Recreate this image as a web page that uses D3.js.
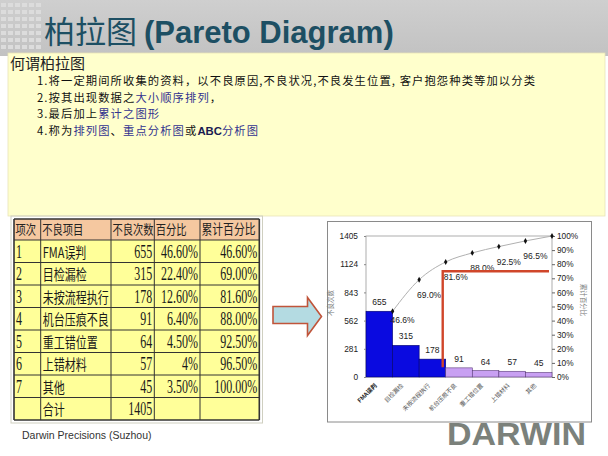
<!DOCTYPE html>
<html><head><meta charset="utf-8">
<script src="https://cdn.jsdelivr.net/npm/d3@7"></script>
<style>html,body{margin:0;padding:0;background:#fff;}svg{display:block;}</style>
</head><body>
<svg id="s" width="608" height="456"></svg>
<script>
// ---------- data ----------
const categories = ["FMA误判","目检漏检","未按流程执行","机台压痕不良","重工错位置","上错材料","其他"];
const counts = [655,315,178,91,64,57,45];
const pctText = ["46.60%","22.40%","12.60%","6.40%","4.50%","4%","3.50%"];
const cumPct = [46.6,69.0,81.6,88.0,92.5,96.5,100.0];
const cumPctText = ["46.60%","69.00%","81.60%","88.00%","92.50%","96.50%","100.00%"];
const cumLabels = ["46.6%","69.0%","81.6%","88.0%","92.5%","96.5%"];
const totalCount = 1405;
const tableHeaders = ["项次","不良项目","不良次数","百分比","累计百分比"];
const leftTicks = [0,281,562,843,1124,1405];
const rightTicks = [0,10,20,30,40,50,60,70,80,90,100];
const vitalFew = 3;              // number of "A" class bars (blue)
const markerPctRange = [7, 75];  // red bracket line, in percent
const introTitle = "何谓柏拉图";
const introLines = [
  [["1.将一定期间所收集的资料，以不良原因,不良状况,不良发生位置, 客户抱怨种类等加以分类",0]],
  [["2.按其出现数据之",0],["大小顺序排列",1],["，",0]],
  [["3.最后加上",0],["累计之图形",1]],
  [["4.称为",0],["排列图",1],["、",0],["重点分析图",1],["或",0],["ABC",2],["分析图",1]]
];

const svg = d3.select("#s");
const CJK = "'Noto Sans CJK SC', 'Liberation Sans', sans-serif";
const SANS = "'Liberation Sans', Arial, 'Noto Sans CJK SC', sans-serif";

// ---------- slide background ----------
const hdrGrad = svg.append("defs").append("linearGradient").attr("id","hg").attr("x1",0).attr("y1",0).attr("x2",0).attr("y2",1);
hdrGrad.append("stop").attr("offset","0%").attr("stop-color","#cfcfcf");
hdrGrad.append("stop").attr("offset","100%").attr("stop-color","#c2c2c2");
svg.append("rect").attr("x",0).attr("y",0).attr("width",608).attr("height",56).attr("fill","url(#hg)");
const gridRows = d3.range(7), gridCols = d3.range(6);
gridRows.forEach(r => gridCols.forEach(c => {
  svg.append("rect").attr("x",1+c*7).attr("y",3+r*7).attr("width",5).attr("height",4).attr("fill","#dcdcdc");
}));
const title = svg.append("text").attr("x",44).attr("y",43).attr("fill","#1d4f63").attr("font-size",31);
title.append("tspan").attr("font-family",CJK).text("柏拉图 ");
title.append("tspan").attr("font-family",SANS).attr("font-weight","bold").text("(Pareto Diagram)");

// yellow intro box
svg.append("rect").attr("x",8).attr("y",53).attr("width",597).attr("height",163).attr("fill","#ffffcc").attr("stroke","#e8e4b8").attr("stroke-width",0.8);
svg.append("text").attr("x",10).attr("y",69).attr("font-family",CJK).attr("font-size",15).attr("fill","#222").text(introTitle);
introLines.forEach((segs,i) => {
  const t = svg.append("text").attr("x",37).attr("y",85+i*16.7).attr("font-family",CJK).attr("font-size",11.3)
    .attr("letter-spacing",1.1).attr("fill","#111");
  segs.forEach(([s,k]) => {
    const sp = t.append("tspan").text(s);
    if (k===1) sp.attr("fill","#33338f");
    if (k===2) sp.attr("font-family",SANS).attr("font-weight","bold").attr("letter-spacing",0).attr("fill","#1a1a50");
  });
});

// ---------- table ----------
const colX = [14, 40.7, 111, 154.3, 200, 259.3];
const rowY = d3.range(10).map(i => i===0 ? 219 : 240 + (i-1)*22.5);
const tbl = svg.append("g");
tbl.append("rect").attr("x",11).attr("y",216).attr("width",251.5).attr("height",207).attr("fill","none").attr("stroke","#cfcfc0").attr("stroke-width",1);
tbl.append("rect").attr("x",colX[0]).attr("y",rowY[0]).attr("width",colX[5]-colX[0]).attr("height",rowY[1]-rowY[0]).attr("fill","#f5c8a0");
tbl.append("rect").attr("x",colX[0]).attr("y",rowY[1]).attr("width",colX[5]-colX[0]).attr("height",rowY[9]-rowY[1]).attr("fill","#ffff99");
const tableRows = categories.map((c,i) => [String(i+1), c, String(counts[i]), pctText[i], cumPctText[i]]);
tableRows.push(["", "合计", String(totalCount), "", ""]);
const TF = "'Liberation Serif', 'Noto Sans CJK SC', serif";
tableHeaders.forEach((h,j) => {
  tbl.append("text").attr("transform",`translate(${colX[j]+1.5},${rowY[0]+15}) scale(1,1.25)`)
    .attr("font-family",CJK).attr("font-size", j===4 ? 10.8 : 10.3).attr("fill","#222").text(h);
});
tableRows.forEach((r,i) => {
  const y = rowY[i+1] + 17.5;
  r.forEach((v,j) => {
    if (!v) return;
    const right = j>=2;
    const xx = right ? colX[j+1]-2 : colX[j]+2;
    const t = tbl.append("text").attr("fill","#1a1a1a").attr("text-anchor", right ? "end":"start").text(v);
    if (j===1) t.attr("transform",`translate(${xx},${y}) scale(1,1.3)`).attr("font-family",CJK).attr("font-size",11);
    else t.attr("transform",`translate(${xx},${y}) scale(1,1.5)`).attr("font-family",TF).attr("font-size",12);
  });
});
colX.forEach((x,j) => tbl.append("line").attr("x1",x).attr("x2",x).attr("y1",rowY[0]).attr("y2",rowY[9]).attr("stroke","#333").attr("stroke-width", (j===0||j===5)?1.6:1));
rowY.forEach((y,i) => tbl.append("line").attr("x1",colX[0]).attr("x2",colX[5]).attr("y1",y).attr("y2",y).attr("stroke","#333").attr("stroke-width",(i===0||i===9)?1.6:1));

// ---------- arrow ----------
svg.append("path").attr("d","M273,306.5 L307.5,306.5 L307.5,297.5 L321.5,316.5 L307.5,335.5 L307.5,323.5 L273,323.5 Z")
  .attr("fill","#b4dbe2").attr("stroke","#c0543a").attr("stroke-width",1.6).attr("stroke-linejoin","miter");

// ---------- DARWIN logo & footer ----------
svg.append("text").attr("x",22).attr("y",439).attr("font-family",SANS).attr("font-size",10.5).attr("fill","#333").text("Darwin Precisions (Suzhou)");
svg.append("text").attr("x",447).attr("y",445).attr("font-family",SANS).attr("font-weight","bold").attr("font-size",31)
  .attr("fill","#7b817b").attr("textLength",139).attr("lengthAdjust","spacingAndGlyphs").text("DARWIN");

// ---------- chart box ----------
svg.append("rect").attr("x",327.5).attr("y",221.5).attr("width",264).attr("height",200.5).attr("fill","#fff").attr("stroke","#8a8a8a").attr("stroke-width",1);

const m = {l:366, r:552, t:236, b:377};
const x = d3.scaleBand().domain(categories).range([m.l,m.r]).padding(0);
const yL = d3.scaleLinear().domain([0,totalCount]).range([m.b,m.t]);
const yR = d3.scaleLinear().domain([0,100]).range([m.b,m.t]);
const g = svg.append("g");

g.append("rect").attr("x",m.l).attr("y",m.t).attr("width",m.r-m.l).attr("height",m.b-m.t).attr("fill","none").attr("stroke","#9a9a9a").attr("stroke-width",0.8);

g.selectAll("rect.bar").data(categories).enter().append("rect").attr("class","bar")
  .attr("x",d=>x(d)).attr("width",x.bandwidth())
  .attr("y",(d,i)=>yL(counts[i])).attr("height",(d,i)=>m.b-yL(counts[i]))
  .attr("fill",(d,i)=> i<vitalFew ? "#0a0ae0" : "#c8a0f2")
  .attr("stroke",(d,i)=> i<vitalFew ? "#00006a" : "#5a3a7a").attr("stroke-width",0.6);

g.selectAll("text.val").data(categories).enter().append("text")
  .attr("x",d=>x(d)+x.bandwidth()/2).attr("y",(d,i)=>yL(counts[i])-6)
  .attr("text-anchor","middle").attr("font-family",SANS).attr("font-size",8.5).attr("fill","#222")
  .text((d,i)=>counts[i]);

const axL = d3.axisLeft(yL).tickValues(leftTicks).tickFormat(d3.format("d")).tickSize(2).tickPadding(6);
const gL = g.append("g").attr("transform",`translate(${m.l},0)`).call(axL);
gL.select(".domain").remove();
gL.selectAll("text").attr("font-family",SANS).attr("font-size",8.3).attr("fill","#222");
gL.selectAll("line").attr("stroke","#888");
const axR = d3.axisRight(yR).tickValues(rightTicks).tickFormat(d=>d+"%").tickSize(3).tickPadding(2);
const gR = g.append("g").attr("transform",`translate(${m.r},0)`).call(axR);
gR.select(".domain").remove();
gR.selectAll("text").attr("font-family",SANS).attr("font-size",8.3).attr("fill","#222");
gR.selectAll("line").attr("stroke","#666");

g.selectAll("text.xl").data(categories).enter().append("text")
  .attr("transform",d=>`translate(${x(d)+x.bandwidth()/2-2},386) rotate(-45)`)
  .attr("text-anchor","end").attr("font-family",CJK).attr("font-size",6)
  .attr("fill",(d,i)=> i===0 ? "#222":"#555").attr("font-weight",(d,i)=>i===0?"bold":"normal").text(d=>d);

g.append("text").attr("transform","translate(333,303) rotate(-90)").attr("text-anchor","middle")
  .attr("font-family",CJK).attr("font-size",6.5).attr("fill","#777").text("不良次数");
g.append("text").attr("transform","translate(581,300) rotate(90)").attr("text-anchor","middle")
  .attr("font-family",CJK).attr("font-size",6.5).attr("fill","#777").text("累计百分比");

const pts = categories.map((d,i)=>[x(d)+x.bandwidth(), yR(cumPct[i])]);
g.append("path").attr("d", d3.line().curve(d3.curveMonotoneX)(pts)).attr("fill","none").attr("stroke","#b0b0b0").attr("stroke-width",1);
g.selectAll("path.pt").data(pts).enter().append("path").attr("class","pt")
  .attr("transform",p=>`translate(${p[0]},${p[1]})`).attr("d",d3.symbol(d3.symbolDiamond,10)).attr("fill","#111");
g.selectAll("text.cum").data(cumLabels).enter().append("text")
  .attr("x",(d,i)=>pts[i][0]+10).attr("y",(d,i)=>pts[i][1]+(i===0?12:18))
  .attr("text-anchor","middle").attr("font-family",SANS).attr("font-size",8.5).attr("fill","#222").text(d=>d);

const bx = x(categories[vitalFew]) - 3;
g.append("path").attr("d", d3.line()([[bx, yR(markerPctRange[0])],[bx, yR(markerPctRange[1])],[m.r-3, yR(markerPctRange[1])]]))
  .attr("fill","none").attr("stroke","#d0462a").attr("stroke-width",2.4);
</script>
</body></html>
